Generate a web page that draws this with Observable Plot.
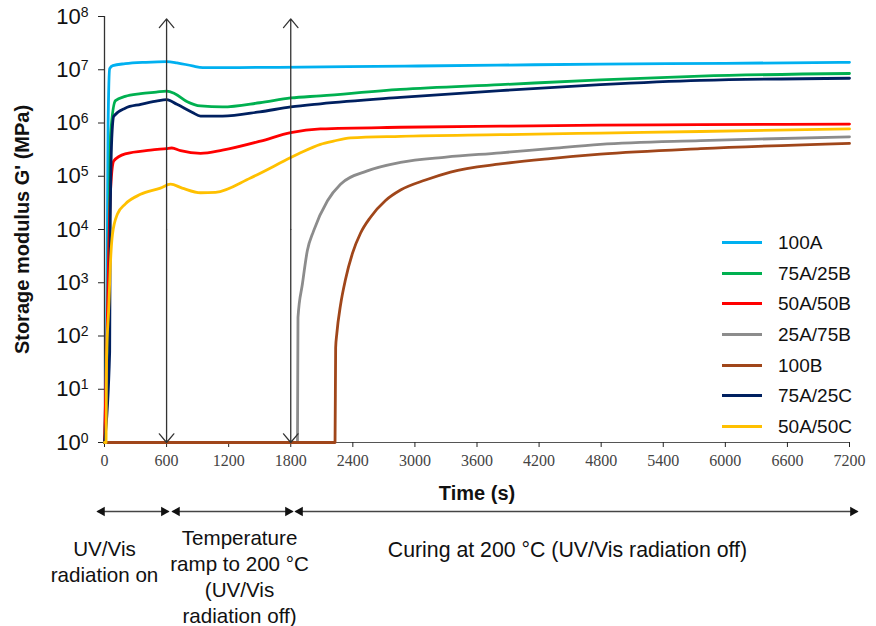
<!DOCTYPE html>
<html><head><meta charset="utf-8">
<script src="https://cdn.jsdelivr.net/npm/d3@7"></script>
<script src="https://cdn.jsdelivr.net/npm/@observablehq/plot@0.6"></script>
<style>
body{margin:0;background:#fff;}
#wrap{position:relative;width:876px;height:626px;overflow:hidden;font-family:"Liberation Sans",Arial,sans-serif;background:#fff;}
#legend{position:absolute;left:722px;top:227px;}
.row{display:flex;align-items:center;height:30.7px;}
.sw{width:40px;height:3px;margin-right:16px;}
.lab{font-size:19px;color:#111;line-height:1;}
</style></head><body><div id="wrap"><div id="chart"></div><div id="legend"></div></div>
<script>
// ---- data (time in s, storage modulus G' in MPa) ----
const seriesNames = ["100A", "75A/25B", "50A/50B", "25A/75B", "100B", "75A/25C", "50A/50C"];
const seriesColors = ["#00B0F0", "#00B050", "#FF0000", "#8C8C8C", "#A0461A", "#002060", "#FFC000"];

const t100A = [0, 25, 35, 50, 80, 200, 400, 600, 700, 850, 950, 1300, 1900, 2900, 3800, 4800, 6000, 7200];
const g100A = [1, 1e3, 1e6, 1.05e7, 1.2e7, 1.3e7, 1.38e7, 1.42e7, 1.35e7, 1.18e7, 1.1e7, 1.1e7, 1.12e7, 1.17e7, 1.22e7, 1.28e7, 1.32e7, 1.38e7];

const t75A25B = [0, 30, 45, 60, 106, 200, 350, 500, 600, 680, 800, 928, 1140, 1500, 1800, 2087, 2860, 3827, 4793, 5760, 7200];
const g75A25B = [1, 100, 1e4, 6.3e5, 2.63e6, 3.16e6, 3.55e6, 3.8e6, 3.98e6, 3.55e6, 2.51e6, 2.09e6, 2.0e6, 2.4e6, 2.95e6, 3.24e6, 4.27e6, 5.25e6, 6.46e6, 7.59e6, 8.5e6];

const t50A50B = [0, 20, 40, 60, 90, 200, 445, 600, 650, 735, 928, 1140, 1508, 1800, 2087, 2860, 3827, 4793, 5760, 7200];
const g50A50B = [1, 40, 3.2e3, 6.3e4, 1.95e5, 2.63e5, 3.09e5, 3.31e5, 3.39e5, 3.02e5, 2.69e5, 3.09e5, 4.57e5, 6.61e5, 7.76e5, 8.32e5, 8.71e5, 9.12e5, 9.33e5, 9.55e5];

const t25A75B = [0, 1865, 1870, 1913, 1960, 2020, 2155, 2281, 2540, 2860, 3300, 3827, 4300, 4793, 5760, 7200];
const g25A75B = [1, 1, 224, 955, 3.98e3, 9.33e3, 3.47e4, 7.08e4, 1.26e5, 1.82e5, 2.29e5, 2.75e5, 3.31e5, 3.98e5, 4.68e5, 5.5e5];

const t100B = [0, 2228, 2234, 2245, 2281, 2329, 2397, 2474, 2571, 2716, 2861, 3102, 3344, 3827, 4310, 4793, 5760, 7200];
const g100B = [1, 1, 60, 110, 380, 1.15e3, 3.6e3, 8.5e3, 1.7e4, 3.5e4, 5.5e4, 8.5e4, 1.2e5, 1.7e5, 2.15e5, 2.6e5, 3.3e5, 4.15e5];

const t75A25C = [0, 50, 55, 70, 90, 200, 350, 500, 600, 700, 850, 928, 1140, 1500, 1800, 2087, 2860, 3827, 4793, 5760, 7200];
const g75A25C = [1, 50, 1e4, 5e5, 1.35e6, 1.9e6, 2.24e6, 2.57e6, 2.75e6, 2.24e6, 1.58e6, 1.35e6, 1.35e6, 1.62e6, 2.0e6, 2.29e6, 3.02e6, 4.07e6, 5.25e6, 6.31e6, 6.92e6];

const t50A50C = [0, 15, 20, 40, 60, 77, 125, 200, 348, 541, 638, 750, 928, 1073, 1411, 1800, 1894, 2087, 2213, 2377, 2860, 3827, 4793, 5760, 7200];
const g50A50C = [1, 1, 40, 300, 3e3, 8.1e3, 1.95e4, 3.0e4, 4.57e4, 6.0e4, 7.1e4, 6.0e4, 4.9e4, 5.0e4, 9.3e4, 2.24e5, 2.75e5, 3.98e5, 4.57e5, 5.25e5, 5.62e5, 6.03e5, 6.46e5, 6.92e5, 7.76e5];

const xTicks = [0, 600, 1200, 1800, 2400, 3000, 3600, 4200, 4800, 5400, 6000, 6600, 7200];
const yTicks = [1, 1e1, 1e2, 1e3, 1e4, 1e5, 1e6, 1e7, 1e8];

const phaseBoundaries = [600, 1800];
const phaseStart = [-68, 657, 1846];
const phaseEnd = [618, 1817, 7277];
const phaseLabels = ["UV/Vis\nradiation on", "Temperature\nramp to 200 °C\n(UV/Vis\nradiation off)", "Curing at 200 °C (UV/Vis radiation off)"];
const phaseLabelX = [0, 1305, 4474];
const phaseLabelDy = [118, 133, 106];

// ---- build table ----
const tList = [t100A, t75A25B, t50A50B, t25A75B, t100B, t75A25C, t50A50C];
const gList = [g100A, g75A25B, g50A50B, g25A75B, g100B, g75A25C, g50A50C];
const rows = [];
seriesNames.forEach((name, i) => tList[i].forEach((t, j) => rows.push({name, t, g: gList[i][j]})));
const phases = phaseStart.map((a, i) => ({a, b: phaseEnd[i]}));

const textMarks = phaseLabels.map((txt, i) => Plot.text([txt], {
  x: () => phaseLabelX[i], y: () => 1, text: d => d, dy: phaseLabelDy[i],
  fontSize: i === 2 ? 21.3 : 20.6, lineHeight: i === 0 ? 1.25 : 1.27, textAnchor: "middle", lineAnchor: "middle", fill: "#111"
}));

const chart = Plot.plot({
  width: 876, height: 626,
  marginLeft: 104, marginRight: 27, marginTop: 16, marginBottom: 184,
  x: {domain: [0, 7200]},
  y: {type: "log", domain: [1, 1e8]},
  color: {domain: seriesNames, range: seriesColors},
  style: {fontFamily: "Liberation Sans, Arial, sans-serif", fontSize: "18px", color: "#222", background: "white", overflow: "visible"},
  marks: [
    Plot.ruleY([1], {stroke: "#555", strokeWidth: 1.2}),
    Plot.ruleX([0], {y1: () => 1, y2: () => 1e8, stroke: "#333", strokeWidth: 1.3}),
    Plot.axisY({ticks: yTicks, tickSize: 6, tickPadding: 10, tickFormat: d => String(Math.round(Math.log10(d))), label: null}),
    Plot.axisX({ticks: xTicks, tickSize: 5, tickPadding: 7, tickFormat: d => String(d), label: null}),
    Plot.line(rows, {x: "t", y: "g", z: "name", stroke: "name", strokeWidth: 2.8, curve: "monotone-x"}),
    Plot.arrow(phaseBoundaries, {x1: d => d, x2: d => d, y1: () => 1e4, y2: () => 9e7, stroke: "#333", strokeWidth: 1.3, headLength: 13, headAngle: 80}),
    Plot.arrow(phaseBoundaries, {x1: d => d, x2: d => d, y1: () => 1e4, y2: () => 1, stroke: "#333", strokeWidth: 1.3, headLength: 13, headAngle: 80}),
    Plot.link(phases, {x1: "a", x2: "b", y1: () => 1, y2: () => 1, dy: 69, stroke: "#444", strokeWidth: 1.5}),
    Plot.dot(phases, {x: "a", y: () => 1, dy: 69, dx: 4.5, symbol: "triangle", rotate: -90, r: 3.6, fill: "#111", stroke: "none"}),
    Plot.dot(phases, {x: "b", y: () => 1, dy: 69, dx: -4.5, symbol: "triangle", rotate: 90, r: 3.6, fill: "#111", stroke: "none"}),
    ...textMarks,
    Plot.text(["Storage modulus G' (MPa)"], {text: d => d, frameAnchor: "left", dx: -82, rotate: -90, textAnchor: "middle", lineAnchor: "middle", fontWeight: "bold", fontSize: 20, fill: "#111"}),
    Plot.text(["Time (s)"], {text: d => d, frameAnchor: "bottom", dy: 51, textAnchor: "middle", lineAnchor: "middle", fontWeight: "bold", fontSize: 20, fill: "#111"})
  ]
});
document.getElementById("chart").appendChild(chart);

// superscript exponents on y tick labels
const ns = "http://www.w3.org/2000/svg";
const yg = chart.querySelector('g[aria-label="y-axis tick label"]');
if (yg) {
  yg.setAttribute("font-size", "22");
  yg.setAttribute("fill", "#111");
  yg.querySelectorAll("text").forEach(t => {
    const e = t.textContent; t.textContent = "";
    const a = document.createElementNS(ns, "tspan"); a.textContent = "10";
    const b = document.createElementNS(ns, "tspan");
    b.setAttribute("dy", "-0.5em"); b.setAttribute("font-size", "14"); b.textContent = e;
    t.appendChild(a); t.appendChild(b);
  });
}
const xg = chart.querySelector('g[aria-label="x-axis tick label"]');
if (xg) {
  xg.setAttribute("font-family", "Liberation Serif, Times New Roman, serif");
  xg.setAttribute("font-size", "16");
  xg.setAttribute("fill", "#444");
}

// legend
const leg = document.getElementById("legend");
seriesNames.forEach((n, i) => {
  const r = document.createElement("div"); r.className = "row";
  r.innerHTML = `<div class="sw" style="background:${seriesColors[i]}"></div><div class="lab">${n}</div>`;
  leg.appendChild(r);
});
</script></body></html>
